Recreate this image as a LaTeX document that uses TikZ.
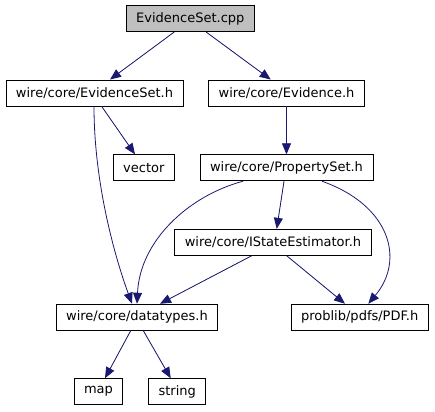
\documentclass[tikz,border=0pt]{standalone}
\usepackage{fontspec}
\setmainfont{DejaVu Sans}
\usetikzlibrary{arrows.meta}
\definecolor{edgeblue}{HTML}{191970}
\definecolor{rootgray}{HTML}{BFBFBF}

\begin{document}
\begin{tikzpicture}[
    x=1pt, y=-1pt,
    file/.style={draw=black, line width=0.9pt, fill=white, minimum height=26pt, inner xsep=10pt, font=\fontsize{13}{15}\selectfont},
    rootfile/.style={file, fill=rootgray},
    dep/.style={-{Triangle[length=11pt, width=9pt]}, draw=edgeblue, fill=edgeblue, line width=0.8pt},
]
\useasboundingbox (0,0) rectangle (435,411);

\node[rootfile] (cpp) at (190.3, 18.5) {EvidenceSet.cpp};
\node[file] (evset) at (94.5, 93) {wire/core/EvidenceSet.h};
\node[file] (evid) at (286.5, 93) {wire/core/Evidence.h};
\node[file] (vect) at (143.8, 167.8) {vector};
\node[file] (propset) at (286.5, 167.8) {wire/core/PropertySet.h};
\node[file] (estim) at (273, 242.3) {wire/core/IStateEstimator.h};
\node[file] (dtypes) at (137, 317.2) {wire/core/datatypes.h};
\node[file] (pdf) at (359.7, 317.2) {problib/pdfs/PDF.h};
\node[file] (map) at (98.5, 391.7) {map};
\node[file] (str) at (177.2, 391.7) {string};

\draw[dep] ([xshift=-16pt]cpp.south) -- ([xshift=15.5pt]evset.north);
\draw[dep] ([xshift=15.7pt]cpp.south) -- ([xshift=-15.8pt]evid.north);
\draw[dep] ([xshift=7.2pt]evset.south) -- ([xshift=-8.8pt]vect.north);
\draw[dep, fill=none] ([xshift=-0.5pt]evset.south) .. controls +(0,73) and +(-19,-52) .. ([xshift=-5pt]dtypes.north);
\draw[dep] (evid.south) -- (propset.north);
\draw[dep, fill=none] ([xshift=-43.5pt]propset.south) .. controls +(-53,14) and +(3,-64) .. (dtypes.north);
\draw[dep] ([xshift=-2.5pt]propset.south) -- ([xshift=3.7pt]estim.north);
\draw[dep, fill=none] ([xshift=35.5pt]propset.south) .. controls +(68,24) and +(37,-44) .. ([xshift=8.6pt]pdf.north);
\draw[dep] ([xshift=-21.3pt]estim.south) -- ([xshift=23pt]dtypes.north);
\draw[dep] ([xshift=13.7pt]estim.south) -- ([xshift=-14.7pt]pdf.north);
\draw[dep] ([xshift=-6.3pt]dtypes.south) -- ([xshift=6.5pt]map.north);
\draw[dep] ([xshift=6.3pt]dtypes.south) -- ([xshift=-6.5pt]str.north);

\end{tikzpicture}
\end{document}
